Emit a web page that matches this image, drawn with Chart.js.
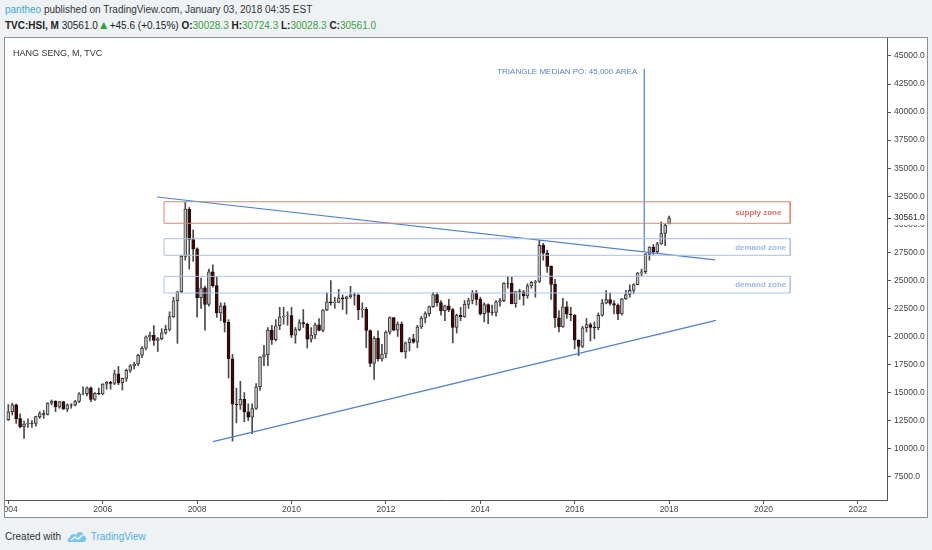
<!DOCTYPE html>
<html><head><meta charset="utf-8">
<script src="https://cdn.jsdelivr.net/npm/chart.js@4.4.1/dist/chart.umd.min.js"></script>
<style>
html,body{margin:0;padding:0;background:#eff2f5;width:932px;height:550px;overflow:hidden;font-family:'Liberation Sans',Arial,sans-serif;}
#panel{position:absolute;left:4px;top:37px;width:922px;height:479px;border:1px solid #8e8e8e;background:#fff;}
#c{position:absolute;left:0;top:0;}
#h1{position:absolute;left:5px;top:4px;font-size:10px;color:#333;white-space:nowrap;}
#h2{position:absolute;left:5px;top:20px;font-size:10px;color:#222;white-space:nowrap;}
#h2 b{font-weight:bold;}
.g{color:#3a9f3f;}
.tri{color:#2fa23a;font-size:12px;line-height:10px;}
#title{position:absolute;left:8px;top:10px;font-size:9px;color:#333;white-space:nowrap;}
#foot{position:absolute;left:5px;top:529px;font-size:10px;color:#333;white-space:nowrap;display:flex;align-items:center;}
#foot .tv{color:#4fb0e0;margin-left:4px;}
</style></head>
<body>
<div id="h1"><span style="color:#3ca5d9">pantheo</span> published on TradingView.com, January 03, 2018 04:35 EST</div>
<div id="h2"><b>TVC:HSI, M</b> 30561.0<span class="tri">▲</span>+45.6 (+0.15%) <b>O:</b><span class="g">30028.3</span> <b>H:</b><span class="g">30724.3</span> <b>L:</b><span class="g">30028.3</span> <b>C:</b><span class="g">30561.0</span></div>
<div id="panel"><canvas id="c" width="922" height="479" style="width:922px;height:479px"></canvas>
<div id="title">HANG SENG, M, TVC</div></div>
<div id="foot">Created with&nbsp;&nbsp;<svg width="20" height="14" viewBox="0 0 20 14"><path d="M2 13 C0 13 0 9 3 8.5 C3 5 7 4 9 6 C10 2 16 2 16.5 6.5 C20 7 20 13 16.5 13 Z" fill="#79c4ea"/><path d="M4 11 L8 8 L11 10 L15.5 6" stroke="#fff" stroke-width="1.4" fill="none"/></svg><span class="tv">TradingView</span></div>
<script>
// ---- data (monthly, first bar = Jan 2004) ----
const firstYear = 2004;
const opens = [
12576,13289,13908,12682,11942,12198,12286,12238,12850,13120,13055,14060,
14230,13722,14196,13516,13908,13867,14201,14880,14904,15429,14386,14937,
14876,15753,15918,15805,16661,15857,16267,16971,17392,17543,18324,18960,
19964,20106,19651,19801,20318,20635,21773,23185,23984,27142,31352,28643,
27812,23456,24331,22849,25755,24533,22102,22731,21261,18016,13969,13888,
14387,13278,12811,13576,15520,18171,18378,20573,19724,20955,21752,21821,
21872,20122,20608,21239,21108,19765,20128,21030,20536,22358,23096,23007,
23035,23447,23338,23527,23720,23684,22398,22440,20534,17592,19864,17989,
18434,20390,21680,20555,21094,18629,19441,19796,19482,20840,21641,22030,
22657,23730,23020,22300,22737,22392,20803,21883,21731,22859,23206,23881,
23306,22035,22837,22151,22134,23082,23191,24757,24742,22933,23998,23987,
23605,24507,24823,24901,28133,27424,26250,24636,21670,20846,22640,21996,
21914,19683,19112,20777,21067,20815,20794,21891,22977,23297,22935,22790,
22001,23361,23741,24112,24615,25661,25765,27324,27970,27554,28246,29177,
30028];
const highs = [
13928,14058,13980,13100,12450,12650,12500,12900,13300,13400,14100,14339,
14270,14200,14200,14000,14000,14300,15000,15508,15500,15500,15000,15400,
15800,16000,16000,17000,17328,16300,17100,17500,17700,18400,19100,20049,
20400,20971,19900,20700,21000,22200,23500,24000,27254,31958,31500,29500,
27900,25200,24500,26000,26387,25300,23000,23000,21500,18400,15400,16000,
15000,14000,14000,15800,18200,19200,20800,21000,21500,22600,22600,22200,
22600,20800,21500,22400,21200,20800,21200,21600,22400,23900,24988,23500,
24200,23700,23600,24468,23900,23800,23000,22600,20600,20000,20500,19300,
20500,21760,21700,21300,21300,19500,19900,20200,21000,21800,22200,22700,
23944,23900,23200,22800,23300,22500,22000,22600,23200,23400,24100,24100,
23500,23000,22900,22800,23200,23400,24800,25362,25300,24000,24200,24100,
24700,24900,25000,28588,28300,27700,26300,25100,22300,23400,23100,22600,
21950,19700,20900,21600,21200,21300,22100,23300,24100,23900,23200,22900,
23400,24100,24600,24700,25700,26000,27400,28000,28200,28400,30200,29990,
30724];
const lows = [
12500,13000,12250,11850,10918,11900,11900,12000,12700,12700,13000,13900,
13300,13600,13500,13300,13600,13800,14100,14800,14700,14189,14300,14800,
14800,15300,15300,15700,15700,15234,16000,16800,17100,17400,18100,18800,
19600,19200,18659,19700,20200,20500,21700,19386,23900,26800,26000,26700,
21709,22500,20572,22700,24400,21700,21400,20400,16300,10676,12300,13500,
12400,12500,11345,13500,15200,17400,17400,19300,19600,20600,21100,21000,
19900,19400,20500,20800,18971,19500,19800,20500,20400,22300,22800,22500,
23000,22400,22000,23400,22800,21500,21700,19000,17300,16170,17800,17800,
18100,20200,20500,20000,18600,18056,18700,19400,19000,20700,21200,21800,
22600,22700,21900,21400,22200,19426,20300,21400,21700,22500,22900,22800,
21900,21300,21137,21900,21800,22700,23100,24300,22900,22600,23300,22800,
23400,24300,23500,24800,26800,25700,23300,20800,20400,20800,21600,21400,
18900,18278,19000,20400,19600,19800,20600,21800,22900,22800,22000,21500,
21900,23300,23500,23800,24600,25400,25600,26800,27300,27400,28200,28100,
30028];
const closes = [
13289,13908,12682,11942,12198,12286,12238,12850,13120,13055,14060,14230,
13722,14196,13516,13908,13867,14201,14880,14904,15429,14386,14937,14876,
15753,15918,15805,16661,15857,16267,16971,17392,17543,18324,18960,19964,
20106,19651,19801,20318,20635,21773,23185,23984,27142,31352,28643,27812,
23456,24331,22849,25755,24533,22102,22731,21261,18016,13969,13888,14387,
13278,12811,13576,15520,18171,18378,20573,19724,20955,21752,21821,21872,
20122,20608,21239,21108,19765,20128,21030,20536,22358,23096,23007,23035,
23447,23338,23527,23720,23684,22398,22440,20534,17592,19864,17989,18434,
20390,21680,20555,21094,18629,19441,19796,19482,20840,21641,22030,22657,
23730,23020,22300,22737,22392,20803,21883,21731,22859,23206,23881,23306,
22035,22837,22151,22134,23082,23191,24757,24742,22933,23998,23987,23605,
24507,24823,24901,28133,27424,26250,24636,21670,20846,22640,21996,21914,
19683,19112,20777,21067,20815,20794,21891,22977,23297,22935,22790,22001,
23361,23741,24112,24615,25661,25765,27324,27970,27554,28246,29177,29919,
30561];
const lastPrice = 30561.0;

// axis ticks
const xTickYears = [2004,2006,2008,2010,2012,2014,2016,2018,2020,2022];
const yTickValues = [7500,10000,12500,15000,17500,20000,22500,25000,27500,30000,32500,35000,37500,40000,42500,45000];

// drawings (x in months since Jan 2004, y in index points)
const resistanceLine = [[37.8,32430],[179.7,26820]];
const supportLine = [[52.05,10620],[179.9,21440]];
const targetLine = [[161.7,43840],[161.7,27530]];
const zoneNames = ['supply zone','demand zone','demand zone'];
const zoneTops = [32010,28715,25360];
const zoneBottoms = [30090,27235,23875];
const zoneStart = 39.6, zoneEnd = 198.8, zoneLabelX = 184.8;
const noteText = 'TRIANGLE MEDIAN PO: 45,000 AREA';
const notePos = [159.9,43570];

// ---- build ----
const idx = closes.map((c,i)=>i);
const bodies = idx.map(i=>({x:i,y:[opens[i],closes[i]]}));
const wicks = idx.map(i=>({x:i,y:[lows[i],highs[i]]}));
const isUp = i => closes[i] >= opens[i];
const pts = arr => arr.map(p=>({x:p[0],y:p[1]}));
const rect = k => [{x:zoneStart,y:zoneTops[k]},{x:zoneEnd,y:zoneTops[k]},{x:zoneEnd,y:zoneBottoms[k]},{x:zoneStart,y:zoneBottoms[k]},{x:zoneStart,y:zoneTops[k]}];
const zoneColors = ['#e3826f','#a8c0ee','#a8c0ee'];
const zoneTextColors = ['#e06d60','#9db7ea','#9db7ea'];

const lineDs = (data,color,w) => ({type:'line',data,borderColor:color,borderWidth:w,pointRadius:0,fill:false,tension:0,order:0});

const FONT = "'Liberation Sans', Arial, sans-serif";

const annot = {
  id:'annot',
  afterDraw(chart){
    const {ctx, scales:{x,y}} = chart;
    ctx.save();
    ctx.font = '8px ' + FONT;
    ctx.fillStyle = '#5a82d4';
    ctx.textAlign = 'right'; ctx.textBaseline = 'middle';
    ctx.fillText(noteText, x.getPixelForValue(notePos[0]), y.getPixelForValue(notePos[1]));
    ctx.font = 'bold 8px ' + FONT;
    ctx.textAlign = 'left';
    zoneNames.forEach((n,k)=>{
      ctx.fillStyle = zoneTextColors[k];
      ctx.fillText(n, x.getPixelForValue(zoneLabelX), y.getPixelForValue((zoneTops[k]+zoneBottoms[k])/2)+0.5);
    });
    // last price label on the axis
    const py = y.getPixelForValue(lastPrice);
    ctx.fillStyle = '#fff';
    ctx.fillRect(y.left+1, py-6, y.width-2, 13);
    ctx.strokeStyle = '#333'; ctx.lineWidth = 1;
    ctx.beginPath(); ctx.moveTo(y.left, Math.round(py)+0.5); ctx.lineTo(y.left+4, Math.round(py)+0.5); ctx.stroke();
    ctx.fillStyle = '#222';
    ctx.font = '8.5px ' + FONT;
    ctx.textBaseline = 'middle';
    ctx.fillText(lastPrice.toFixed(1), y.left+7, py);
    ctx.restore();
  }
};

new Chart(document.getElementById('c'), {
  type:'bar',
  data:{datasets:[
    lineDs(rect(0), zoneColors[0], 1),
    lineDs(rect(1), zoneColors[1], 1),
    lineDs(rect(2), zoneColors[2], 1),
    lineDs(pts(resistanceLine), '#4f7fd6', 1.2),
    lineDs(pts(supportLine), '#4f7fd6', 1.2),
    lineDs(pts(targetLine), '#6a93de', 1),
    {label:'body',data:bodies,barThickness:3,grouped:false,borderSkipped:false,borderWidth:1,
      backgroundColor:c=>isUp(c.dataIndex)?'#c2c2c2':'#3e0c0c',
      borderColor:c=>isUp(c.dataIndex)?'#3a3a3a':'#2a0707',order:1},
    {label:'wick',data:wicks,barThickness:1,grouped:false,borderWidth:0,borderSkipped:false,
      backgroundColor:'#4a4a4a',order:2}
  ]},
  options:{
    responsive:false, animation:false,
    layout:{padding:0},
    plugins:{legend:{display:false},tooltip:{enabled:false}},
    scales:{
      x:{type:'linear',position:'bottom',min:-0.84,max:223.4,offset:false,bounds:'data',
        grid:{offset:false,drawOnChartArea:false,drawTicks:true,tickLength:4,color:'#555'},
        border:{display:true,color:'#555',width:1},
        ticks:{font:{size:8.5,family:FONT},color:'#444',padding:1,maxRotation:0,autoSkip:false,
          callback:v=>String(firstYear + v/12)},
        afterBuildTicks:s=>{s.ticks = xTickYears.map(yr=>({value:(yr-firstYear)*12}));},
        afterFit:s=>{s.height=17; s.paddingLeft=0; s.paddingRight=0;}
      },
      y:{type:'linear',position:'right',min:5423,max:46604,bounds:'data',
        grid:{drawOnChartArea:false,drawTicks:true,tickLength:4,color:'#555'},
        border:{display:true,color:'#555',width:1},
        ticks:{font:{size:8.5,family:FONT},color:'#444',padding:3,autoSkip:false,
          callback:v=>Number(v).toFixed(1)},
        afterBuildTicks:s=>{s.ticks = yTickValues.map(v=>({value:v}));},
        afterFit:s=>{s.width=40; s.paddingTop=0; s.paddingBottom=0;}
      }
    }
  },
  plugins:[annot]
});
</script>
</body></html>
